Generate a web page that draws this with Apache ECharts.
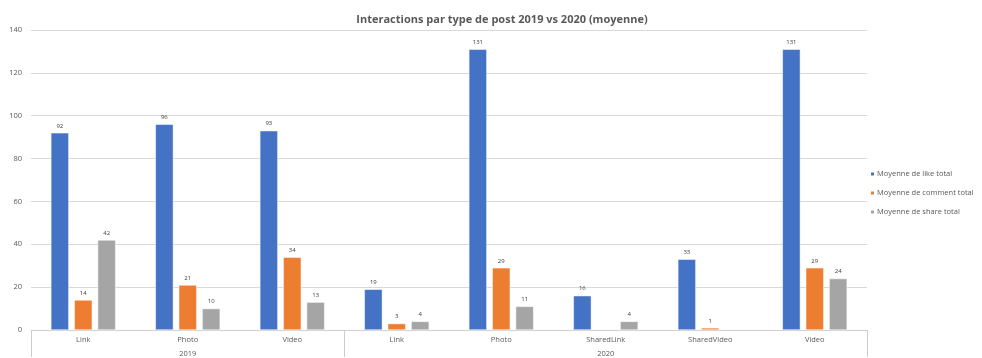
<!DOCTYPE html>
<html>
<head>
<meta charset="utf-8">
<script src="https://cdn.jsdelivr.net/npm/echarts@6/dist/echarts.min.js"></script>
<style>
  html, body { margin: 0; padding: 0; background: #fff; }
  #main { width: 982px; height: 358px; }
</style>
</head>
<body>
<div id="main"></div>
<script>
const types = ['Link', 'Photo', 'Video', 'Link', 'Photo', 'SharedLink', 'SharedVideo', 'Video']
const years = ['', '2019', '', '', '', '2020', '', '']
const likeTotal = [92, 96, 93, 19, 131, 16, 33, 131]
const commentTotal = [14, 21, 34, 3, 29, null, 1, 29]
const shareTotal = [42, 10, 13, 4, 11, 4, null, 24]
const yTicks = [0, 20, 40, 60, 80, 100, 120, 140]

const font = '"Open Sans", sans-serif'
const myChart = echarts.init(document.getElementById('main'))

function barSerie(name, data, color) {
  return {
    name: name,
    type: 'bar',
    data: data,
    barWidth: 18,
    barGap: '30%',
    itemStyle: { color: color, borderColor: '#fff', borderWidth: 0.5 },
    label: {
      show: true,
      position: 'top',
      distance: 4,
      fontSize: 6,
      fontFamily: font,
      color: '#404040'
    }
  }
}

myChart.setOption({
  animation: false,
  title: {
    text: 'Interactions par type de post 2019 vs 2020 (moyenne)',
    left: 497,
    textAlign: 'center',
    top: 9,
    textStyle: { fontSize: 11, fontWeight: 'bold', color: '#595959', fontFamily: font }
  },
  legend: {
    orient: 'vertical',
    left: 869,
    top: 170,
    padding: 0,
    itemWidth: 5,
    itemHeight: 5,
    itemGap: 11,
    icon: 'rect',
    textStyle: { fontSize: 7.5, color: '#595959', fontFamily: font, padding: [0, 0, 0, -3] },
    data: ['Moyenne de like total', 'Moyenne de comment total', 'Moyenne de share total']
  },
  grid: { left: 31, right: 115, top: 30, bottom: 27 },
  xAxis: [{
    type: 'category',
    data: types,
    axisLine: { show: true, lineStyle: { color: '#d0d0d0', width: 1 } },
    axisTick: {
      show: true,
      alignWithLabel: false,
      // séparateurs d'années seulement
      interval: (i) => i === 0 || i === 3,
      length: 27,
      lineStyle: { color: '#cccccc', width: 1 }
    },
    axisLabel: { fontSize: 7.5, color: '#595959', fontFamily: font, margin: 6, interval: 0 }
  }, {
    type: 'category',
    data: years,
    position: 'bottom',
    offset: 15,
    axisLine: { show: false },
    axisTick: { show: false },
    axisLabel: { fontSize: 7.5, color: '#595959', fontFamily: font, margin: 5, interval: 0 }
  }],
  yAxis: {
    type: 'value',
    min: yTicks[0],
    max: yTicks[yTicks.length - 1],
    interval: 20,
    axisLine: { show: false },
    axisTick: { show: false },
    splitLine: { lineStyle: { color: '#d9d9d9' } },
    axisLabel: { fontSize: 7.5, color: '#595959', fontFamily: font, margin: 9 }
  },
  series: [
    barSerie('Moyenne de like total', likeTotal, '#4472C4'),
    barSerie('Moyenne de comment total', commentTotal, '#ED7D31'),
    barSerie('Moyenne de share total', shareTotal, '#A5A5A5')
  ]
})
</script>
</body>
</html>
